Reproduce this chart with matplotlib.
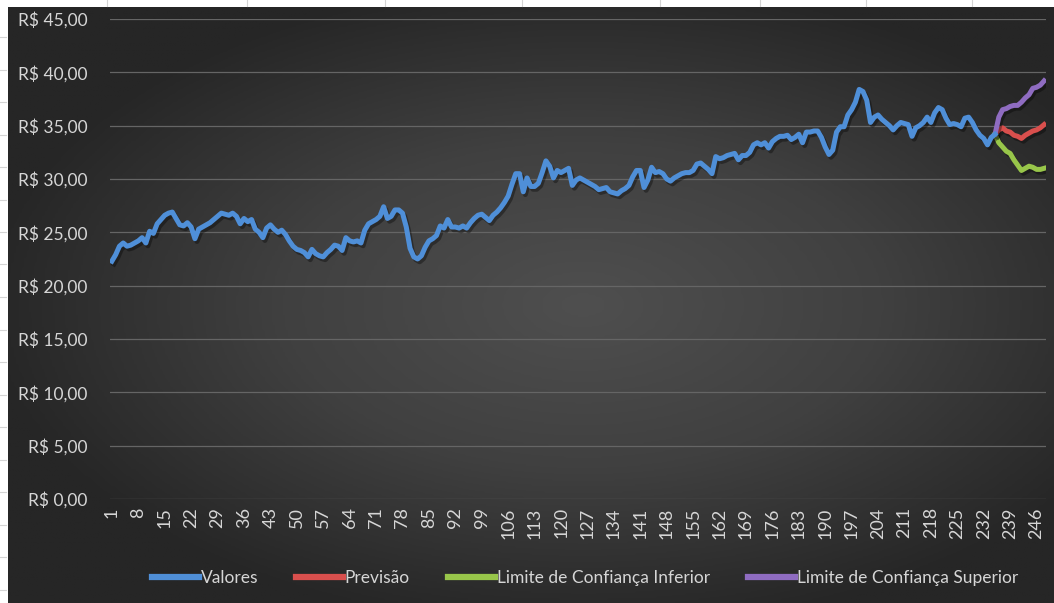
import numpy as np
import matplotlib
matplotlib.use("Agg")
import matplotlib.pyplot as plt
import matplotlib.patheffects as pe
from matplotlib.colors import LinearSegmentedColormap

plt.rcParams['font.family'] = ['Lato', 'DejaVu Sans']

# Série histórica (períodos 1..235)
valores = [
    22.3, 22.9, 23.7, 24.0, 23.7, 23.8, 24.0, 24.2, 24.5, 24.0,
    25.1, 24.9, 25.8, 26.2, 26.6, 26.8, 26.9, 26.3, 25.7, 25.6,
    25.9, 25.5, 24.4, 25.3, 25.5, 25.7, 25.9, 26.2, 26.5, 26.8,
    26.7, 26.6, 26.8, 26.5, 25.8, 26.3, 26.0, 26.2, 25.3, 25.0,
    24.5, 25.4, 25.7, 25.3, 25.0, 25.2, 24.8, 24.2, 23.7, 23.4,
    23.3, 23.1, 22.7, 23.4, 23.0, 22.8, 22.7, 23.1, 23.4, 23.8,
    23.7, 23.3, 24.5, 24.2, 24.1, 24.2, 24.0, 25.2, 25.8, 26.0,
    26.2, 26.5, 27.4, 26.3, 26.5, 27.1, 27.1, 26.8, 25.5, 23.5,
    22.7, 22.5, 22.8, 23.6, 24.2, 24.4, 24.7, 25.6, 25.4, 26.2,
    25.5, 25.5, 25.4, 25.6, 25.4, 25.9, 26.3, 26.6, 26.7, 26.4,
    26.1, 26.6, 26.9, 27.3, 27.8, 28.4, 29.5, 30.5, 30.5, 28.8,
    30.1, 29.3, 29.3, 29.6, 30.6, 31.7, 31.2, 30.1, 30.8, 30.6,
    30.8, 31.0, 29.4, 29.9, 30.1, 29.9, 29.7, 29.5, 29.3, 29.0,
    29.1, 29.2, 28.8, 28.7, 28.6, 28.9, 29.1, 29.4, 30.2, 30.8,
    30.8, 29.2, 29.9, 31.1, 30.6, 30.7, 30.5, 30.0, 29.8, 30.1,
    30.3, 30.5, 30.6, 30.6, 30.8, 31.4, 31.5, 31.2, 30.9, 30.5,
    32.1, 31.9, 32.0, 32.2, 32.3, 32.4, 31.8, 32.2, 32.2, 32.5,
    33.2, 33.4, 33.2, 33.4, 32.9, 33.5, 33.8, 34.0, 34.0, 34.1,
    33.7, 33.9, 34.2, 33.4, 34.4, 34.4, 34.5, 34.5, 33.9, 33.0,
    32.3, 32.7, 34.4, 34.9, 34.9, 36.0, 36.5, 37.2, 38.4, 38.2,
    37.4, 35.3, 35.8, 36.0, 35.6, 35.3, 35.0, 34.6, 35.0, 35.3,
    35.2, 35.1, 34.0, 34.8, 35.0, 35.3, 35.8, 35.3, 36.2, 36.7,
    36.5, 35.7, 35.1, 35.2, 35.1, 34.9, 35.7, 35.8, 35.3, 34.6,
    34.1, 33.8, 33.2, 33.9, 34.2,
]

# Previsão e limites de confiança (períodos 235..248)
previsao = [34.2, 34.6, 34.8, 34.5, 34.4, 34.1, 34.0, 33.8, 34.1, 34.3,
            34.5, 34.6, 34.8, 35.1]
lim_inferior = [34.2, 33.4, 33.0, 32.6, 32.4, 31.8, 31.3, 30.8, 31.0, 31.2,
                31.1, 30.9, 30.9, 31.0]
lim_superior = [34.2, 35.8, 36.5, 36.6, 36.8, 36.9, 36.9, 37.2, 37.6, 37.9,
                38.5, 38.6, 38.8, 39.2]

n_periodos = 248
x_hist = np.arange(1, len(valores) + 1)
x_prev = np.arange(len(valores), len(valores) + len(previsao))

fig = plt.figure(figsize=(10.54, 6.03), dpi=100)
fig.patch.set_facecolor('white')

# Fundo do gráfico com gradiente radial escuro
bg = fig.add_axes([8 / 1054, 0, 1 - 8 / 1054, 1 - 7 / 603])
gx, gy = np.meshgrid(np.linspace(-1, 1, 400), np.linspace(-1, 1, 240))
r = np.sqrt(((gx - 0.1) / 1.15) ** 2 + (gy / 1.1) ** 2)
cmap_bg = LinearSegmentedColormap.from_list('bg', ['#4f4f4f', '#404040', '#262626'])
bg.imshow(np.clip(r, 0, 1), cmap=cmap_bg, aspect='auto', extent=[0, 1, 0, 1],
          vmin=0, vmax=1)
bg.set_axis_off()

# Linhas de grade da planilha na margem branca
for yy in np.arange(37, 603, 32.5):
    fig.add_artist(plt.Line2D([0, 6 / 1054], [1 - yy / 603] * 2, color='#d4d4d4', lw=0.8))
for xx in [107, 247, 385, 522, 660, 760, 866, 972]:
    fig.add_artist(plt.Line2D([xx / 1054] * 2, [1, 1 - 6 / 603], color='#d4d4d4', lw=0.8))

ax = fig.add_axes([110 / 1054, 1 - 499 / 603, 936 / 1054, 480 / 603])
ax.set_facecolor('none')

shadow = [pe.SimpleLineShadow(offset=(1.5, -2), shadow_color='black', alpha=0.35),
          pe.Normal()]
lw = 3.6
ax.plot(x_hist, valores, color='#4f8fd8', lw=lw, label='Valores',
        solid_joinstyle='round', path_effects=shadow, zorder=4)
ax.plot(x_prev, previsao, color='#d94f4d', lw=lw, label='Previsão',
        solid_joinstyle='round', path_effects=shadow, zorder=3)
ax.plot(x_prev, lim_inferior, color='#98c64a', lw=lw,
        label='Limite de Confiança Inferior', solid_joinstyle='round',
        path_effects=shadow, zorder=3)
ax.plot(x_prev, lim_superior, color='#8f6cc1', lw=lw,
        label='Limite de Confiança Superior', solid_joinstyle='round',
        path_effects=shadow, zorder=3)

ax.set_xlim(0.5, n_periodos + 0.5)
ax.set_ylim(0, 45)
ax.set_yticks(np.arange(0, 46, 5))
ax.set_yticklabels([f'R$ {v:.2f}'.replace('.', ',') for v in np.arange(0, 46, 5)])
xt = np.arange(1, n_periodos + 1, 7)
ax.set_xticks(xt)
ax.set_xticklabels([str(v) for v in xt], rotation=90)

ax.grid(axis='y', color='#656565', lw=0.9)
ax.set_axisbelow(True)
for s in ax.spines.values():
    s.set_visible(False)
ax.tick_params(axis='both', length=0, colors='#d6d6d6')
ax.tick_params(axis='y', pad=16, labelsize=12.5)
ax.tick_params(axis='x', pad=6, labelsize=13)

leg = fig.legend(loc='center', bbox_to_anchor=(0.555, 1 - 578 / 603), ncol=4,
                 frameon=False, fontsize=12.5, handlelength=2.7, handletextpad=0.1,
                 columnspacing=2.2)
for t in leg.get_texts():
    t.set_color('#d6d6d6')
for h in leg.get_lines():
    h.set_linewidth(4.5)
    h.set_path_effects([])

fig.savefig('out.png', dpi=100)
